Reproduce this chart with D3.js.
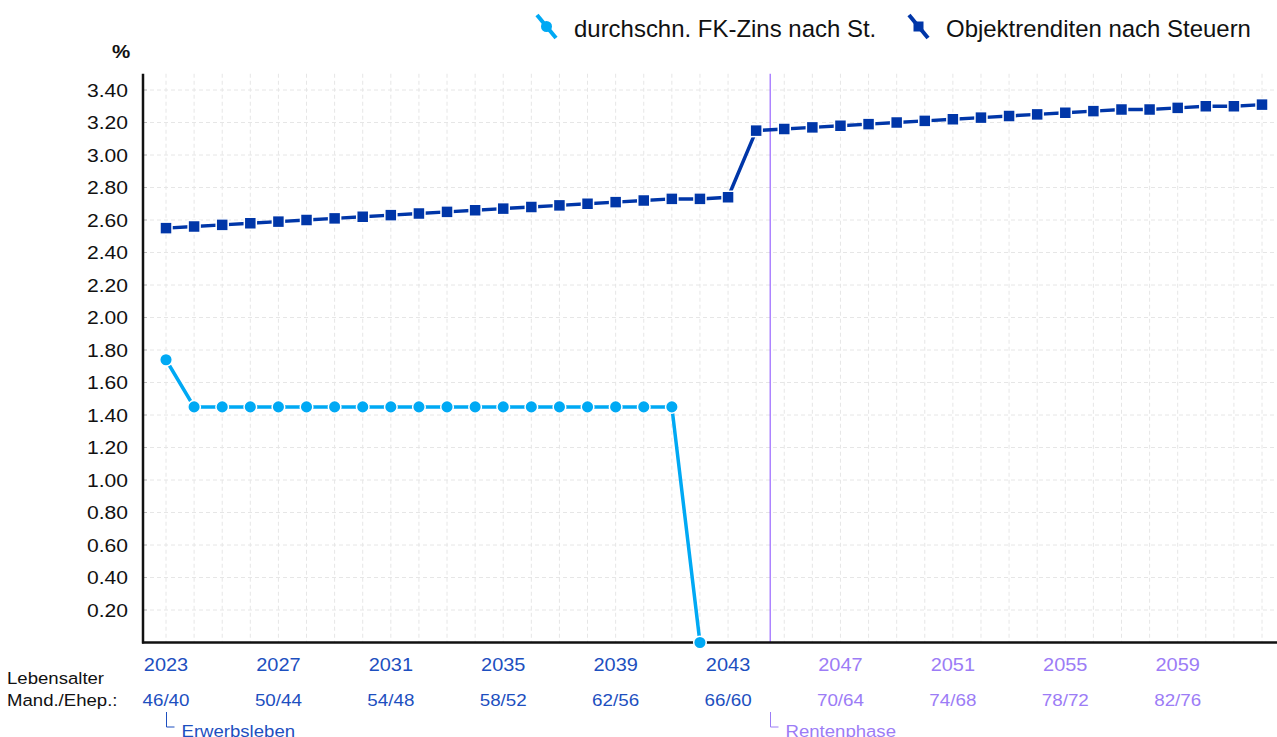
<!DOCTYPE html>
<html>
<head>
<meta charset="utf-8">
<script src="https://cdn.jsdelivr.net/npm/d3@7"></script>
<style>
    body { margin: 0; background: #fff; font-family: "Liberation Sans", Arial, sans-serif; }
    #chart { width: 1277px; height: 737px; }
</style>
</head>
<body>
<div id="chart"></div>
<script>
// years on the x axis, one point per year
const years = d3.range(2023, 2063);
// durchschn. FK-Zins nach St. (ends in 2042)
const fkZins = [1.74, 1.45, 1.45, 1.45, 1.45, 1.45, 1.45, 1.45, 1.45, 1.45,
    1.45, 1.45, 1.45, 1.45, 1.45, 1.45, 1.45, 1.45, 1.45, 0.00];
// Objektrenditen nach Steuern
const objRendite = [2.55, 2.56, 2.57, 2.58, 2.59, 2.60, 2.61, 2.62, 2.63, 2.64,
    2.65, 2.66, 2.67, 2.68, 2.69, 2.70, 2.71, 2.72, 2.73, 2.73,
    2.74, 3.15, 3.16, 3.17, 3.18, 3.19, 3.20, 3.21, 3.22, 3.23,
    3.24, 3.25, 3.26, 3.27, 3.28, 3.28, 3.29, 3.30, 3.30, 3.31];
const yTicks = [0.2, 0.4, 0.6, 0.8, 1.0, 1.2, 1.4, 1.6, 1.8, 2.0, 2.2, 2.4, 2.6, 2.8, 3.0, 3.2, 3.4];
const labelYears = [2023, 2027, 2031, 2035, 2039, 2043, 2047, 2051, 2055, 2059];
const ageLabels = ["46/40", "50/44", "54/48", "58/52", "62/56", "66/60", "70/64", "74/68", "78/72", "82/76"];
const phaseSplit = 2044.5; // Erwerbsleben -> Rentenphase

const colLight = "#00a9f4";
const colDark = "#0036a8";
const colBlueTxt = "#1d4fbf";
const colPurple = "#9c7cf6";
const SX = 1.14; // the reference text is a bit wider than Liberation Sans

const W = 1277, H = 737;
const svg = d3.select("#chart").append("svg")
    .attr("width", W)
    .attr("height", H);

// text drawn at (x, y), stretched a bit in x
function addText(parent, tx, ty, txt, size, fill, anchor, sx) {
    return parent.append("text")
        .attr("transform", `translate(${tx},${ty}) scale(${sx || SX},1)`)
        .attr("text-anchor", anchor || "start")
        .style("font-size", size + "px")
        .attr("fill", fill || "#111")
        .text(txt);
}

// scales
const x = d3.scaleLinear().domain([2023, 2062]).range([166, 1262]);
const y = d3.scaleLinear().domain([0, 3.5]).range([642.5, 73.75]);
const axisLeftX = 143, axisRight = 1277;

// grid
const grid = svg.append("g").attr("class", "grid")
    .attr("stroke", "#e6e6e6").attr("stroke-width", 1).attr("stroke-dasharray", "4,3");
grid.selectAll(".gy").data(yTicks).enter().append("line")
    .attr("x1", axisLeftX).attr("x2", axisRight)
    .attr("y1", d => y(d)).attr("y2", d => y(d));
grid.selectAll(".gx").data(years).enter().append("line")
    .attr("x1", d => x(d)).attr("x2", d => x(d))
    .attr("y1", y(3.5)).attr("y2", y(0));

// small ticks
svg.append("g").attr("stroke", "#bbb")
    .selectAll("line").data(yTicks).enter().append("line")
    .attr("x1", axisLeftX).attr("x2", axisLeftX + 4)
    .attr("y1", d => y(d)).attr("y2", d => y(d));

// y labels
const yLab = svg.append("g");
yTicks.forEach(d => addText(yLab, 128, y(d) + 6.5, d3.format(".2f")(d), 18.5, "#111", "end"));

addText(svg, 121, 58, "%", 18, "#111", "middle").style("font-weight", "bold");

// phase line
svg.append("line")
    .attr("x1", x(phaseSplit)).attr("x2", x(phaseSplit))
    .attr("y1", y(3.5)).attr("y2", y(0))
    .attr("stroke", "#9966ff").attr("stroke-width", 1.2);

// axes lines
svg.append("line")
    .attr("x1", axisLeftX).attr("x2", axisLeftX)
    .attr("y1", y(3.5)).attr("y2", y(0) + 1)
    .attr("stroke", "#111").attr("stroke-width", 2.5);
svg.append("line")
    .attr("x1", axisLeftX - 1).attr("x2", axisRight)
    .attr("y1", y(0)).attr("y2", y(0))
    .attr("stroke", "#111").attr("stroke-width", 2.5);

// series
const line = d3.line().x(d => x(d.year)).y(d => y(d.v));
const lightData = fkZins.map((v, i) => ({year: years[i], v: v}));
const darkData = objRendite.map((v, i) => ({year: years[i], v: v}));

svg.append("path").datum(darkData)
    .attr("d", line).attr("fill", "none")
    .attr("stroke", colDark).attr("stroke-width", 3.5);
svg.append("g").selectAll("rect").data(darkData).enter().append("rect")
    .attr("x", d => x(d.year) - 6).attr("y", d => y(d.v) - 6)
    .attr("width", 12).attr("height", 12)
    .attr("fill", colDark).attr("stroke", "#fff").attr("stroke-width", 1.5);

svg.append("path").datum(lightData)
    .attr("d", line).attr("fill", "none")
    .attr("stroke", colLight).attr("stroke-width", 3.5);
svg.append("g").selectAll("circle").data(lightData).enter().append("circle")
    .attr("cx", d => x(d.year)).attr("cy", d => y(d.v))
    .attr("r", 6.3)
    .attr("fill", colLight).attr("stroke", "#fff").attr("stroke-width", 1.5);

// x labels
const isRente = yr => yr > phaseSplit;
const xLab = svg.append("g");
labelYears.forEach((yr, i) => {
    const c = isRente(yr) ? colPurple : colBlueTxt;
    addText(xLab, x(yr), 671, yr, 17.5, c, "middle");
    addText(xLab, x(yr), 706, ageLabels[i], 16.5, c, "middle");
});

addText(svg, 7, 684, "Lebensalter", 16.3, "#111");
addText(svg, 7, 706, "Mand./Ehep.:", 16.3, "#111");

// phase markers
const phases = [
    {xv: 2023, label: "Erwerbsleben", color: colBlueTxt},
    {xv: phaseSplit, label: "Rentenphase", color: colPurple}
];
phases.forEach(p => {
    const px = Math.round(x(p.xv)) + 0.5;
    svg.append("path")
        .attr("d", `M${px},712 V727 H${px + 8}`)
        .attr("fill", "none").attr("stroke", p.color).attr("stroke-width", 1);
    addText(svg, px + 15, 737, p.label, 16.3, p.color);
});

// legend
const legendItems = [
    {name: "durchschn. FK-Zins nach St.", color: colLight, shape: "circle", x: 537},
    {name: "Objektrenditen nach Steuern", color: colDark, shape: "rect", x: 909}
];
legendItems.forEach(it => {
    const g = svg.append("g").attr("transform", `translate(${it.x},15)`);
    g.append("line").attr("x1", 0).attr("y1", 0).attr("x2", 19).attr("y2", 23)
        .attr("stroke", it.color).attr("stroke-width", 4);
    if (it.shape === "circle") {
        g.append("circle").attr("cx", 9.5).attr("cy", 11.5).attr("r", 5.5).attr("fill", it.color);
    } else {
        g.append("rect").attr("x", 4.5).attr("y", 6.5).attr("width", 10).attr("height", 10).attr("fill", it.color);
    }
    addText(g, 37, 22, it.name, 23.5, "#111", "start", 1.02);
});
</script>
</body>
</html>
